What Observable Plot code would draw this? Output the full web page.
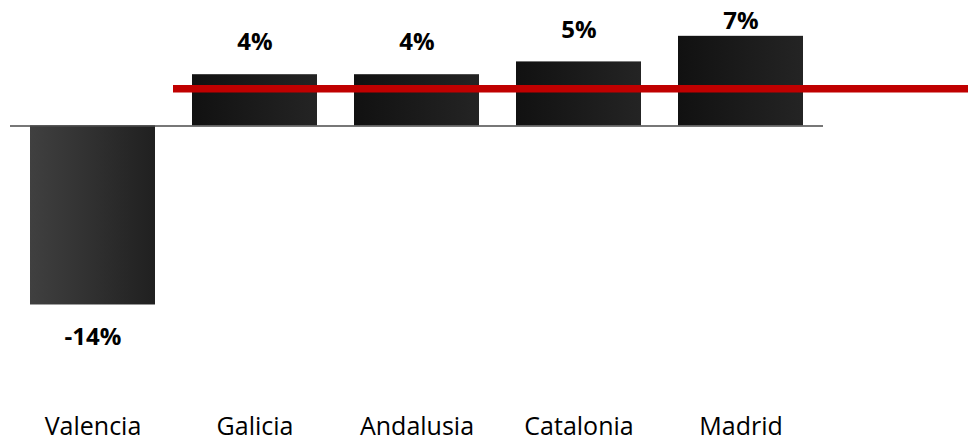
<!DOCTYPE html>
<html>
<head>
<meta charset="utf-8">
<script src="https://cdn.jsdelivr.net/npm/d3@7"></script>
<script src="https://cdn.jsdelivr.net/npm/@observablehq/plot@0.6"></script>
<style>
  html, body { margin: 0; padding: 0; background: #fff; }
</style>
</head>
<body>
<div id="chart"></div>
<script>
// Regional change, in percent
const regions = ["Valencia", "Galicia", "Andalusia", "Catalonia", "Madrid"];
const changes = [-14, 4, 4, 5, 7];
// National reference level drawn as the red line
const benchmark = 2.9;

const rows = regions.map((region, i) => ({region, value: changes[i]}));

// Value labels sit a little beyond the bar end, kept inside the top of the frame
const labelGap = 2.5;
const labelCeiling = 8.2;
const labelY = d => d.value < 0 ? d.value - labelGap : Math.min(d.value + labelGap, labelCeiling);

// Horizontal shading used by the bars
const gradients = () => {
  const g = d3.create("svg:g");
  const defs = g.append("defs");
  const add = (id, from, to) => {
    const lg = defs.append("linearGradient").attr("id", id)
      .attr("x1", "0").attr("x2", "1").attr("y1", "0").attr("y2", "0");
    lg.append("stop").attr("offset", "0").attr("stop-color", from);
    lg.append("stop").attr("offset", "1").attr("stop-color", to);
  };
  add("barUp", "#111111", "#242424");
  add("barDown", "#404040", "#202020");
  return g.node();
};

const chart = Plot.plot({
  width: 968,
  height: 443,
  marginTop: 0,
  marginBottom: 40,
  marginLeft: 10,
  marginRight: 145,
  style: {fontFamily: "'Open Sans', sans-serif", color: "#000", background: "#fff"},
  x: {domain: regions, paddingInner: 0.227, paddingOuter: 0.11, label: null},
  y: {domain: [-21.7, 9.8], axis: null},
  marks: [
    gradients,
    Plot.barY(rows.filter(d => d.value >= 0), {x: "region", y: "value", fill: "url(#barUp)"}),
    Plot.barY(rows.filter(d => d.value < 0), {x: "region", y: "value", fill: "url(#barDown)"}),
    Plot.ruleY([0], {stroke: "#4a4a4a", strokeWidth: 1.5}),
    Plot.ruleY([benchmark], {stroke: "#c00000", strokeWidth: 7.5, insetLeft: 163, insetRight: -145}),
    Plot.text(rows, {
      x: "region",
      y: labelY,
      text: d => `${d.value}%`,
      fontSize: 24,
      fontWeight: "bold",
      fill: "#000",
      textAnchor: "middle",
      lineAnchor: "middle"
    }),
    Plot.axisX({tickSize: 0, tickPadding: 14, fontSize: 25, label: null})
  ]
});

document.getElementById("chart").appendChild(chart);
</script>
</body>
</html>
